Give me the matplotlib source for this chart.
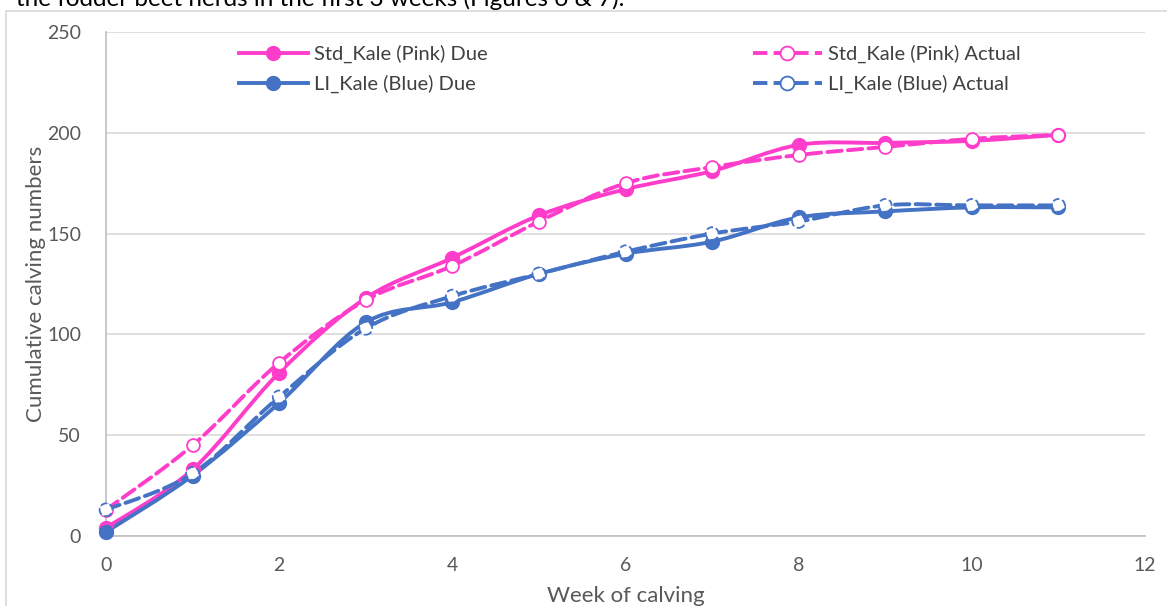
import numpy as np
import matplotlib.pyplot as plt
from matplotlib.path import Path
from matplotlib.patches import PathPatch, Rectangle
from matplotlib.lines import Line2D

plt.rcParams['font.family'] = ['Lato', 'DejaVu Sans']

weeks = [0, 1, 2, 3, 4, 5, 6, 7, 8, 9, 10, 11]
std_due = [4, 33, 81, 118, 138, 159, 172, 181, 194, 195, 196, 199]
std_actual = [13, 45, 86, 117, 134, 156, 175, 183, 189, 193, 197, 199]
li_due = [2, 30, 66, 106, 116, 130, 140, 146, 158, 161, 163, 163]
li_actual = [13, 31, 69, 103, 119, 130, 141, 150, 156, 164, 164, 164]

pink = '#FF3DCB'
blue = '#4472C4'


def smooth_path(x, y):
    # Excel style smoothed line: cubic bezier through every point
    x = np.asarray(x, float)
    y = np.asarray(y, float)
    verts = [(x[0], y[0])]
    codes = [Path.MOVETO]
    n = len(x)
    for i in range(n - 1):
        x0, y0 = (x[i - 1], y[i - 1]) if i > 0 else (x[i], y[i])
        x3, y3 = (x[i + 2], y[i + 2]) if i + 2 < n else (x[i + 1], y[i + 1])
        c1 = (x[i] + (x[i + 1] - x0) / 6, y[i] + (y[i + 1] - y0) / 6)
        c2 = (x[i + 1] - (x3 - x[i]) / 6, y[i + 1] - (y3 - y[i]) / 6)
        verts += [c1, c2, (x[i + 1], y[i + 1])]
        codes += [Path.CURVE4] * 3
    return Path(verts, codes)


fig = plt.figure(figsize=(11.67, 6.06), dpi=100)
ax = fig.add_axes([106 / 1167, 1 - 536 / 606, (1145 - 106) / 1167, (536 - 32) / 606])

# outer chart frame
fig.patches.append(Rectangle((6 / 1167, -0.1), 1.2, 1 - 11 / 606 + 0.1, transform=fig.transFigure,
                             fill=False, edgecolor='#D9D9D9', lw=1.2))
fig.text(16 / 1167, 1 + 1 / 606, "the fodder beet herds in the first 3 weeks (Figures 6 & 7).",
         fontsize=17.5, color='black', va='center', ha='left')

series = [
    (std_due, pink, '-', 'filled', 'Std_Kale (Pink) Due'),
    (li_due, blue, '-', 'filled', 'LI_Kale (Blue) Due'),
    (std_actual, pink, '--', 'open', 'Std_Kale (Pink) Actual'),
    (li_actual, blue, '--', 'open', 'LI_Kale (Blue) Actual'),
]
handles = {}
for vals, col, ls, mk, lab in series:
    patch = PathPatch(smooth_path(weeks, vals), facecolor='none', edgecolor=col, lw=2.8,
                      linestyle=ls, capstyle='round', zorder=3)
    ax.add_patch(patch)
    if mk == 'filled':
        ax.plot(weeks, vals, 'o', color=col, ms=10, zorder=4, clip_on=False)
        h = Line2D([], [], color=col, lw=2.8, marker='o', ms=10)
    else:
        ax.scatter(weeks, vals, s=85, facecolor='white', edgecolor=col, lw=1.3,
                   linestyle='-' if col == pink else '--', zorder=4, clip_on=False)
        h = Line2D([], [], color=col, lw=2.8, ls='--', marker='o', ms=10,
                   markerfacecolor='white', markeredgewidth=1.3)
    handles[lab] = h

order = ['Std_Kale (Pink) Due', 'LI_Kale (Blue) Due', 'Std_Kale (Pink) Actual', 'LI_Kale (Blue) Actual']
leg = fig.legend([handles[k] for k in order], order, ncol=2, loc='upper left',
                 bbox_to_anchor=(221 / 1167, 1 - 27 / 606), frameon=False, fontsize=14.5,
                 handlelength=3.4, columnspacing=13.2, handletextpad=0.3, labelspacing=0.55,
                 labelcolor='#404040')

ax.set_xlim(0, 12)
ax.set_ylim(0, 250)
ax.set_xticks(range(0, 13, 2))
ax.set_yticks(range(0, 251, 50))
ax.grid(axis='y', color='#D9D9D9', lw=1.2)
ax.set_axisbelow(True)
for s in ['top', 'right']:
    ax.spines[s].set_visible(False)
for s in ['left', 'bottom']:
    ax.spines[s].set_color('#BFBFBF')
    ax.spines[s].set_linewidth(1.2)
ax.tick_params(length=0, labelsize=14, colors='#595959', pad=15)
ax.tick_params(axis='y', pad=18)
ax.set_xlabel('Week of calving', fontsize=16, color='#595959', labelpad=9)
ax.set_ylabel('Cumulative calving numbers', fontsize=16, color='#595959', labelpad=1)

plt.savefig('out.png', dpi=100)
